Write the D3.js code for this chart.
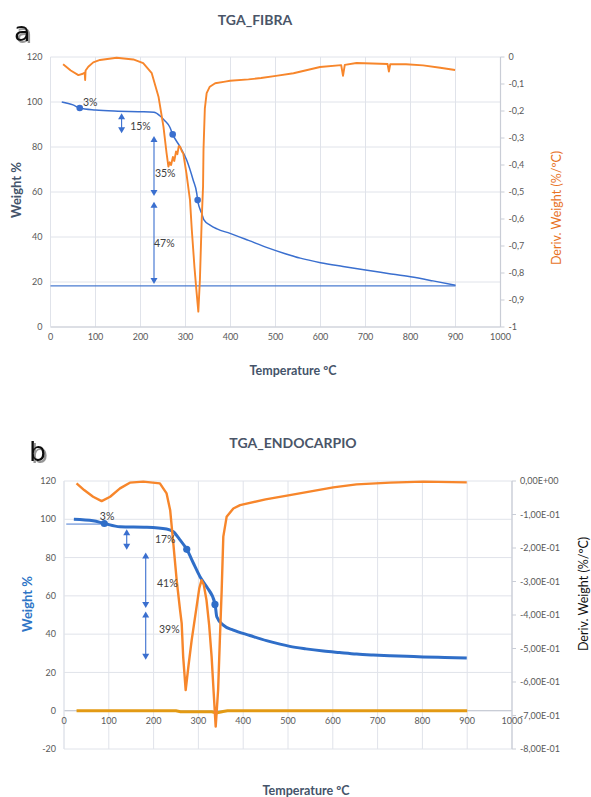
<!DOCTYPE html>
<html><head><meta charset="utf-8">
<script src="https://cdn.jsdelivr.net/npm/d3@7"></script>
<style>body{margin:0;background:#fff}svg{display:block}</style>
</head><body>
<svg id="c" width="591" height="797">
  <defs>
    <filter id="shadow" x="-30%" y="-30%" width="160%" height="160%">
      <feDropShadow dx="2" dy="2" stdDeviation="0.6" flood-color="#8a8a8a" flood-opacity="0.9"/>
    </filter>
  </defs>
</svg>
<script>
// ---------- DATA ----------
const xTicks = [0,100,200,300,400,500,600,700,800,900,1000];

// Chart a: TGA_FIBRA
const fibraLeftTicks = [0,20,40,60,80,100,120];
const fibraRightTicks = [0,-0.1,-0.2,-0.3,-0.4,-0.5,-0.6,-0.7,-0.8,-0.9,-1];
const fibraRightLabels = ["0","-0,1","-0,2","-0,3","-0,4","-0,5","-0,6","-0,7","-0,8","-0,9","-1"];
const fibraWeightT = [25,50,65,100,150,200,230,243,254,265,271.5,288,302.6,317,325,327,336,341,354.6,370,399,440,480,520,555,600,650,700,750,800,850,900];
const fibraWeightW = [100,98.7,97.3,96.4,95.9,95.7,95.4,93.9,91.7,88.9,85.6,80.1,74.2,65.3,59.4,56.4,50.5,47.6,45.3,43.6,41.6,38.5,35.4,32.7,30.6,28.6,26.9,25.3,23.8,22.3,20.5,18.6];
const fibraMarkT = [65,271.5,327];
const fibraMarkW = [97.3,85.6,56.4];
const fibraBaseT = [0,900];
const fibraBaseW = [18.3,18.3];
const fibraDerivT = [28,45,62,72,76,77,78,84,95,110,147,184,206,225,240,251,258,262,265,268,272,275,279,282,285,288,292,295,302,310,314,320,324,328.5,332,336,339,340,343,347,354,366,388,399,440,468,501,540,599,646,650,654,680,715,749,752,755,790,828,866,899];
const fibraDerivD = [-0.027,-0.05,-0.067,-0.062,-0.058,-0.085,-0.05,-0.036,-0.02,-0.011,-0.003,-0.009,-0.023,-0.06,-0.147,-0.258,-0.357,-0.406,-0.39,-0.40,-0.37,-0.385,-0.35,-0.36,-0.33,-0.332,-0.35,-0.357,-0.43,-0.53,-0.64,-0.78,-0.86,-0.943,-0.826,-0.604,-0.48,-0.344,-0.19,-0.134,-0.11,-0.097,-0.091,-0.088,-0.083,-0.078,-0.07,-0.06,-0.037,-0.03,-0.07,-0.029,-0.022,-0.024,-0.026,-0.054,-0.027,-0.027,-0.031,-0.04,-0.048];
const fibraArrowT = [158,230,230];
const fibraArrowFrom = [95,84.9,55.7];
const fibraArrowTo = [86.1,58.2,19.1];
const fibraLabels = ["3%","15%","35%","47%"];
const fibraLabelT = [72,177,232,230];
const fibraLabelW = [99.7,89.3,68.4,37.3];

// Chart b: TGA_ENDOCARPIO
const endoLeftTicks = [-20,0,20,40,60,80,100,120];
const endoRightTicks = [0,-0.1,-0.2,-0.3,-0.4,-0.5,-0.6,-0.7,-0.8];
const endoRightLabels = ["0,00E+00","-1,00E-01","-2,00E-01","-3,00E-01","-4,00E-01","-5,00E-01","-6,00E-01","-7,00E-01","-8,00E-01"];
const endoWeightT = [22,65,90,125,185,229,244,258,274,290,303.6,318.5,337,341,355.6,378,415,452,480,504,540,579,615,653,690,728,765,802,850,899];
const endoWeightW = [100,99.2,97.8,96.1,95.8,94.9,93.5,89.5,84.3,76.5,70,64.7,56,49.1,44.7,42.1,39.3,36.6,34.9,33.6,32.3,31.2,30.4,29.6,29.1,28.7,28.4,28.1,27.8,27.5];
const endoMarkT = [90,274,337];
const endoMarkW = [97.8,84.3,55.5];
const endoRefT = [5,100];
const endoRefW = [97.5,97.5];
const endoDerivT = [28,45,65,84,103,125,147,177,214,229,237,244,251.5,259,262.7,266,271.6,278,285,296,302,307,312,318,324,329.5,334,338.6,344,348,352,355.6,363,378,393,450,504,601,653,728,802,899];
const endoDerivD = [-0.007,-0.027,-0.047,-0.06,-0.047,-0.022,-0.005,-0.002,-0.007,-0.037,-0.087,-0.186,-0.296,-0.385,-0.425,-0.524,-0.624,-0.55,-0.475,-0.375,-0.32,-0.296,-0.31,-0.355,-0.43,-0.524,-0.63,-0.733,-0.624,-0.47,-0.325,-0.166,-0.107,-0.082,-0.072,-0.055,-0.042,-0.019,-0.01,-0.005,-0.002,-0.004];
const endoGoldT = [28,250,260,330,340,355,365,900];
const endoGoldW = [0,0,-0.5,-0.6,-1.2,-0.4,0,0];
const endoArrowT = [140,182.4,182.4];
const endoArrowFrom = [94.8,82.7,51.8];
const endoArrowTo = [84.1,53.6,26.6];
const endoLabels = ["3%","17%","41%","39%"];
const endoLabelT = [80,203,207.6,212];
const endoLabelW = [101.7,89.7,66.6,42.5];

// ---------- DRAW ----------
const svg = d3.select("#c");
const FONT = "Lato, 'Open Sans', sans-serif";
const zip = (a,b) => a.map((v,i)=>[v,b[i]]);

function chart(o){
  const g = svg.append("g");
  const x = d3.scaleLinear([0,1000],o.xr);
  const y = d3.scaleLinear(o.yd,o.yr);
  const y2 = d3.scaleLinear(o.y2d,o.yr);
  g.append("g").selectAll("line").data(o.leftTicks).join("line")
    .attr("x1",o.xr[0]).attr("x2",o.xr[1]).attr("y1",d=>y(d)).attr("y2",d=>y(d))
    .attr("stroke","#e0e3ea").attr("stroke-width",1);
  g.append("g").selectAll("line").data(xTicks).join("line")
    .attr("x1",d=>x(d)).attr("x2",d=>x(d)).attr("y1",o.yr[0]).attr("y2",o.yr[1])
    .attr("stroke","#e0e3ea").attr("stroke-width",1);
  g.append("line").attr("x1",o.xr[0]).attr("x2",o.xr[1]).attr("y1",y(0)).attr("y2",y(0))
    .attr("stroke","#c9cdd6").attr("stroke-width",1.2);
  g.append("line").attr("x1",o.xr[1]).attr("x2",o.xr[1]).attr("y1",o.yr[0]).attr("y2",o.yr[1])
    .attr("stroke","#c9cdd6").attr("stroke-width",1.2);
  g.append("line").attr("x1",o.xr[0]).attr("x2",o.xr[0]).attr("y1",o.yr[0]).attr("y2",o.yr[1])
    .attr("stroke","#e0e3ea").attr("stroke-width",1);
  g.append("g").selectAll("line").data(o.rightTicks).join("line")
    .attr("x1",o.xr[1]).attr("x2",o.xr[1]+4).attr("y1",d=>y2(d)).attr("y2",d=>y2(d))
    .attr("stroke","#c9cdd6");
  g.append("g").selectAll("text").data(o.leftTicks).join("text")
    .attr("x",o.xr[0]-8).attr("y",d=>y(d)).attr("dy","0.35em").attr("text-anchor","end")
    .attr("font-family",FONT).attr("font-size",9).attr("fill","#595959").text(d=>d);
  g.append("g").selectAll("text").data(xTicks).join("text")
    .attr("x",d=>x(d)).attr("y",y(0)+13).attr("text-anchor","middle")
    .attr("font-family",FONT).attr("font-size",9).attr("fill","#595959").text(d=>d);
  g.append("g").selectAll("text").data(o.rightTicks).join("text")
    .attr("x",o.xr[1]+8).attr("y",d=>y2(d)).attr("dy","0.35em").attr("text-anchor","start")
    .attr("font-family",FONT).attr("font-size",9).attr("fill","#595959").text((d,i)=>o.rightLabels[i]);
  g.append("text").attr("x",o.titleX).attr("y",o.titleY).attr("text-anchor","middle")
    .attr("font-family",FONT).attr("font-weight","bold").attr("font-size",14).attr("fill","#4a5568")
    .text(o.title);
  g.append("text").attr("x",o.xTitleX).attr("y",o.xTitleY).attr("text-anchor","middle")
    .attr("font-family",FONT).attr("font-weight","bold").attr("font-size",12.5).attr("fill","#44546a")
    .text("Temperature ºC");
  g.append("text").attr("transform",`translate(${o.lTitleX},${o.lTitleY}) rotate(-90)`).attr("text-anchor","middle")
    .attr("font-family",FONT).attr("font-weight","bold").attr("font-size",13).attr("fill",o.lTitleColor)
    .text("Weight %");
  g.append("text").attr("transform",`translate(${o.rTitleX},${o.rTitleY}) rotate(-90)`).attr("text-anchor","middle")
    .attr("font-family",FONT).attr("font-size",12.5).attr("fill",o.rTitleColor)
    .text("Deriv. Weight (%/ºC)");
  g.append("text").attr("x",o.letterX).attr("y",o.letterY).attr("font-family","'DejaVu Sans', sans-serif")
    .attr("font-size",27).attr("fill","#111").attr("filter","url(#shadow)").text(o.letter);
  return {g,x,y,y2};
}

function arrows(c, T, F, To, color){
  const g = c.g.append("g");
  T.forEach((t,i)=>{
    const xp = c.x(t), y1 = c.y(F[i]), y2 = c.y(To[i]);
    g.append("line").attr("x1",xp).attr("x2",xp).attr("y1",y1+4).attr("y2",y2-4)
      .attr("stroke",color).attr("stroke-width",1.1);
    g.append("path").attr("d",`M${xp},${y1}L${xp-3.5},${y1+6}L${xp+3.5},${y1+6}Z`).attr("fill",color);
    g.append("path").attr("d",`M${xp},${y2}L${xp-3.5},${y2-6}L${xp+3.5},${y2-6}Z`).attr("fill",color);
  });
}
function labels(c, L, T, W){
  c.g.append("g").selectAll("text").data(L).join("text")
    .attr("x",(d,i)=>c.x(T[i])).attr("y",(d,i)=>c.y(W[i])).attr("dy","0.35em")
    .attr("font-family",FONT).attr("font-size",10.5).attr("fill","#404040").text(d=>d);
}

// ----- Chart a -----
const A = chart({xr:[50.5,500.5], yd:[0,120], yr:[327,57], y2d:[-1,0],
  leftTicks:fibraLeftTicks, rightTicks:fibraRightTicks, rightLabels:fibraRightLabels,
  title:"TGA_FIBRA", titleX:255, titleY:25, xTitleX:293, xTitleY:375,
  lTitleX:21, lTitleY:190, lTitleColor:"#44546a", rTitleX:561, rTitleY:208, rTitleColor:"#e8731f",
  letter:"a", letterX:14, letterY:41});
const lineA = d3.line().x(d=>A.x(d[0])).y(d=>A.y(d[1])).curve(d3.curveMonotoneX);
const lineA2 = d3.line().x(d=>A.x(d[0])).y(d=>A.y2(d[1]));
A.g.append("path").attr("d",d3.line().x(d=>A.x(d[0])).y(d=>A.y(d[1]))(zip(fibraBaseT,fibraBaseW)))
  .attr("fill","none").attr("stroke","#4a7bd0").attr("stroke-width",1.3);
A.g.append("path").attr("d",lineA(zip(fibraWeightT,fibraWeightW)))
  .attr("fill","none").attr("stroke","#3a6fcf").attr("stroke-width",1.5);
A.g.append("g").selectAll("circle").data(zip(fibraMarkT,fibraMarkW)).join("circle")
  .attr("cx",d=>A.x(d[0])).attr("cy",d=>A.y(d[1])).attr("r",3.3).attr("fill","#3a6fcf");
A.g.append("path").attr("d",lineA2(zip(fibraDerivT,fibraDerivD)))
  .attr("fill","none").attr("stroke","#f7862b").attr("stroke-width",1.9).attr("stroke-linejoin","round");
arrows(A, fibraArrowT, fibraArrowFrom, fibraArrowTo, "#3a6fcf");
labels(A, fibraLabels, fibraLabelT, fibraLabelW);

// ----- Chart b -----
const B = chart({xr:[64,512], yd:[-20,120], yr:[749,481], y2d:[-0.8,0],
  leftTicks:endoLeftTicks, rightTicks:endoRightTicks, rightLabels:endoRightLabels,
  title:"TGA_ENDOCARPIO", titleX:293, titleY:448, xTitleX:306, xTitleY:795,
  lTitleX:32, lTitleY:604, lTitleColor:"#2e75c6", rTitleX:588, rTitleY:594, rTitleColor:"#111",
  letter:"b", letterX:29, letterY:461});
const lineB = d3.line().x(d=>B.x(d[0])).y(d=>B.y(d[1])).curve(d3.curveMonotoneX);
const lineB2 = d3.line().x(d=>B.x(d[0])).y(d=>B.y2(d[1]));
B.g.append("path").attr("d",d3.line().x(d=>B.x(d[0])).y(d=>B.y(d[1]))(zip(endoGoldT,endoGoldW)))
  .attr("fill","none").attr("stroke","#e39a14").attr("stroke-width",3);
B.g.append("path").attr("d",d3.line().x(d=>B.x(d[0])).y(d=>B.y(d[1]))(zip(endoRefT,endoRefW)))
  .attr("fill","none").attr("stroke","#4a7bd0").attr("stroke-width",1);
B.g.append("path").attr("d",lineB(zip(endoWeightT,endoWeightW)))
  .attr("fill","none").attr("stroke","#2f6ec8").attr("stroke-width",3);
B.g.append("g").selectAll("circle").data(zip(endoMarkT,endoMarkW)).join("circle")
  .attr("cx",d=>B.x(d[0])).attr("cy",d=>B.y(d[1])).attr("r",3.6).attr("fill","#2f6ec8");
B.g.append("path").attr("d",lineB2(zip(endoDerivT,endoDerivD)))
  .attr("fill","none").attr("stroke","#f7862b").attr("stroke-width",2.4).attr("stroke-linejoin","round");
arrows(B, endoArrowT, endoArrowFrom, endoArrowTo, "#3a6fcf");
labels(B, endoLabels, endoLabelT, endoLabelW);
</script>
</body></html>
